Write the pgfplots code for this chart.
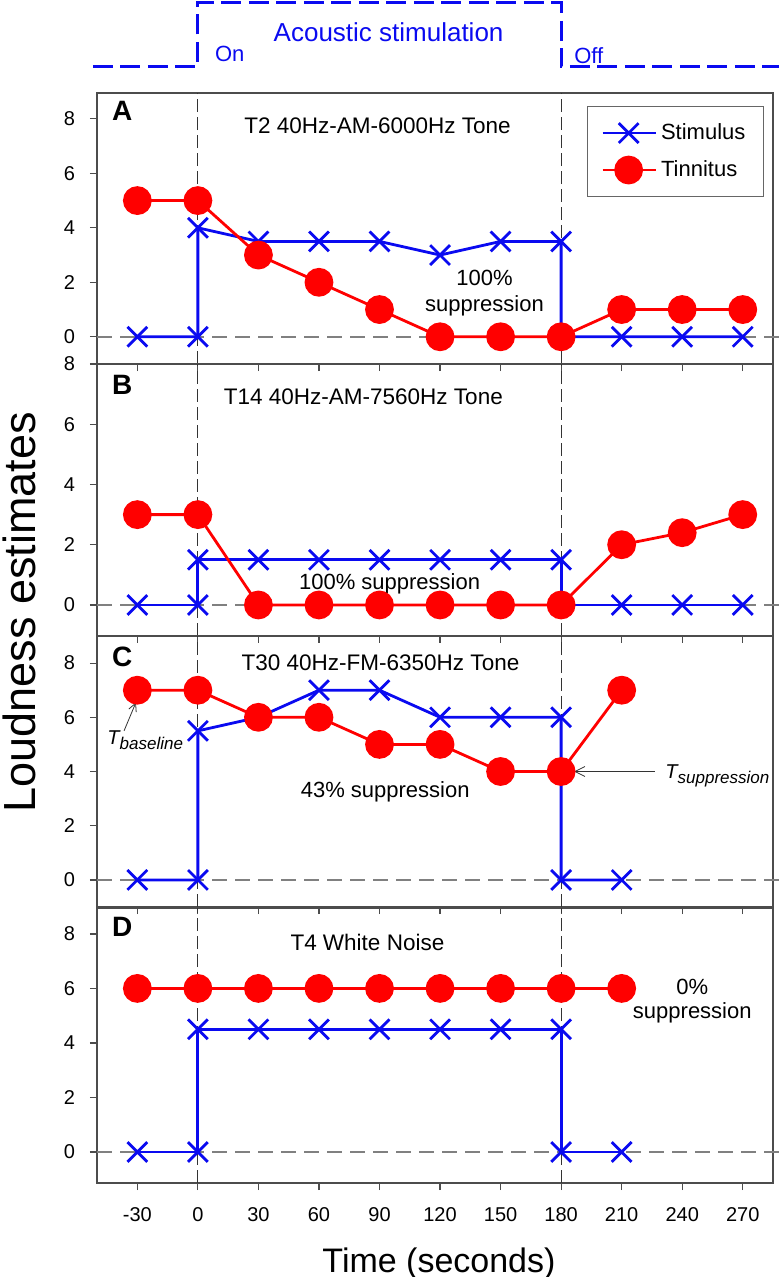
\documentclass[border=0pt]{standalone}
\usepackage{fontspec}
\setmainfont{Liberation Sans}
\usepackage{pgfplots}
\pgfplotsset{compat=1.18}
\usetikzlibrary{arrows.meta}

\definecolor{sblue}{RGB}{10,10,240}
\definecolor{tred}{RGB}{255,0,0}

\pgfplotsset{
  panel/.style={
    scale only axis, width=338pt,
    xmin=-50, xmax=285,
    xtick={-30,0,30,60,90,120,150,180,210,240,270},
    xticklabels={},
    ytick={0,2,4,6,8}, yticklabels={0,2,4,6,8},
    tick pos=left, tick align=outside,
    major tick length=3.5pt,
    axis line style={black!70, line width=0.7pt},
    tick style={black!70, line width=0.6pt},
    yticklabel style={font=\fontsize{10}{12}\selectfont, xshift=-4pt},
    clip=false,
  },
  stim/.style={sblue, line width=1.4pt, mark=x, mark size=7pt,
    mark options={solid, line width=1.4pt}},
  tinn/.style={tred, line width=1.4pt, mark=*, mark size=6.5pt,
    mark options={solid}},
  guide/.style={black!80, line width=0.5pt, dash pattern=on 6.5pt off 2.5pt, forget plot},
  zeroline/.style={black!50, line width=0.75pt, dash pattern=on 7.5pt off 4pt, forget plot},
}
\tikzset{
  plab/.style={font=\bfseries\fontsize{14}{16}\selectfont, anchor=west},
  ttl/.style={font=\fontsize{11.25}{13}\selectfont},
  ann/.style={font=\fontsize{11}{13}\selectfont},
}
\newcommand\guides[2]{%
  \addplot[guide] coordinates {(0,#1) (0,#2)};
  \addplot[guide] coordinates {(180,#1) (180,#2)};
  \addplot[zeroline] coordinates {(-50,0) (290,0)};
}

\begin{document}
\begin{tikzpicture}
\useasboundingbox (0,0) rectangle (389.5pt,-638.5pt);

% stimulation trace
\begin{axis}[at={(48.5pt,-1.5pt)}, anchor=north west, scale only axis,
  width=338pt, height=32pt, xmin=-50, xmax=285, ymin=0, ymax=1,
  axis lines=none, clip=false]
\addplot[sblue, line width=1.5pt, dash pattern=on 10pt off 3.75pt]
  coordinates {(-52,0) (0,0) (0,1) (180,1) (180,0) (288,0)};
\node[sblue, font=\fontsize{13}{15}\selectfont] at (axis cs:94.5,0.55) {Acoustic stimulation};
\node[sblue, anchor=west, font=\fontsize{11}{13}\selectfont] at (axis cs:5,0.2) {On};
\node[sblue, anchor=west, font=\fontsize{11}{13}\selectfont] at (axis cs:183,0.18) {Off};
\end{axis}

% A
\begin{axis}[panel, at={(48.5pt,-46.5pt)}, anchor=north west,
  height=135.5pt, ymin=-1, ymax=8.95,
  legend style={at={(0.9867,0.952)}, anchor=north east, draw=black!60,
    line width=0.6pt, font=\fontsize{11}{13}\selectfont,
    inner xsep=7pt, inner ysep=6.5pt, row sep=5pt, cells={anchor=west}},
  legend image code/.code={\draw[mark repeat=2, mark phase=2, #1]
    plot coordinates {(0pt,0pt) (13pt,0pt) (26.5pt,0pt)};}]
\guides{-1}{8.95}
\addplot[stim] coordinates {(-30,0) (0,0) (0,4) (30,3.5) (60,3.5) (90,3.5)
  (120,3) (150,3.5) (180,3.5) (180,0) (210,0) (240,0) (270,0)};
\addlegendentry{Stimulus}
\addplot[tinn] coordinates {(-30,5) (0,5) (30,3) (60,2) (90,1) (120,0)
  (150,0) (180,0) (210,1) (240,1) (270,1)};
\addlegendentry{Tinnitus}
\node[plab] at (rel axis cs:0,1) [xshift=4pt, yshift=-9pt] {A};
\node[ttl] at (axis cs:89,7.75) {T2 40Hz-AM-6000Hz Tone};
\node[align=center, font=\fontsize{11}{13}\selectfont] at (axis cs:142,1.6) {100\%\\suppression};
\end{axis}

% B
\begin{axis}[panel, at={(48.5pt,-182pt)}, anchor=north west,
  height=136pt, ymin=-1.03, ymax=8]
\guides{-1.03}{8}
\addplot[stim] coordinates {(-30,0) (0,0) (0,1.5) (30,1.5) (60,1.5) (90,1.5)
  (120,1.5) (150,1.5) (180,1.5) (180,0) (210,0) (240,0) (270,0)};
\addplot[tinn] coordinates {(-30,3) (0,3) (30,0) (60,0) (90,0) (120,0)
  (150,0) (180,0) (210,2) (240,2.4) (270,3)};
\node[plab] at (rel axis cs:0,1) [xshift=4pt, yshift=-10.5pt] {B};
\node[ttl] at (axis cs:82,6.9) {T14 40Hz-AM-7560Hz Tone};
\node[ann] at (axis cs:95,0.7) {100\% suppression};
\end{axis}

% C
\begin{axis}[panel, at={(48.5pt,-318pt)}, anchor=north west,
  height=135.5pt, ymin=-1, ymax=9]
\guides{-1}{9}
\addplot[stim] coordinates {(-30,0) (0,0) (0,5.5) (30,6) (60,7) (90,7)
  (120,6) (150,6) (180,6) (180,0) (210,0)};
\addplot[tinn] coordinates {(-30,7) (0,7) (30,6) (60,6) (90,5) (120,5)
  (150,4) (180,4) (210,7)};
\node[plab] at (rel axis cs:0,1) [xshift=4pt, yshift=-10.5pt] {C};
\node[ttl] at (axis cs:90.5,8) {T30 40Hz-FM-6350Hz Tone};
\node[ann, anchor=west] at (axis cs:47.5,3.25) {43\% suppression};
\node[anchor=west, inner sep=0pt] at (axis cs:-45,5.15)
  {\itshape\fontsize{10}{12}\selectfont T\raisebox{-0.45ex}{\fontsize{8.5}{10}\selectfont baseline}};
\draw[black!80, line width=0.4pt, -{Straight Barb[length=4pt,width=4pt]}]
  (axis cs:-36.6,5.5) -- (axis cs:-30.7,6.55);
\node[anchor=west, inner sep=0pt] at (axis cs:231.5,3.85)
  {\itshape\fontsize{10}{12}\selectfont T\raisebox{-0.45ex}{\fontsize{8.5}{10}\selectfont suppression}};
\draw[black!80, line width=0.4pt, -{Straight Barb[length=5pt,width=5pt]}]
  (axis cs:226.5,4) -- (axis cs:186.4,4);
\end{axis}

% D
\begin{axis}[panel, at={(48.5pt,-454pt)}, anchor=north west,
  height=137.5pt, ymin=-1.14, ymax=8.95,
  xticklabels={-30,0,30,60,90,120,150,180,210,240,270},
  xticklabel style={font=\fontsize{10}{12}\selectfont, yshift=-5pt}]
\guides{-1.14}{8.95}
\addplot[stim] coordinates {(-30,0) (0,0) (0,4.5) (30,4.5) (60,4.5) (90,4.5)
  (120,4.5) (150,4.5) (180,4.5) (180,0) (210,0)};
\addplot[tinn] coordinates {(-30,6) (0,6) (30,6) (60,6) (90,6) (120,6)
  (150,6) (180,6) (210,6)};
\node[plab] at (rel axis cs:0,1) [xshift=4pt, yshift=-9.5pt] {D};
\node[ttl] at (axis cs:84,7.7) {T4 White Noise};
\node[align=center, font=\fontsize{11}{12}\selectfont] at (axis cs:245,5.55) {0\%\\suppression};
\end{axis}

\node[rotate=90, anchor=north, inner sep=0pt, font=\fontsize{22.5}{26}\selectfont]
  at (1pt,-306pt) {Loudness estimates};
\node[anchor=base, inner sep=0pt, font=\fontsize{17}{20}\selectfont]
  at (219.5pt,-636pt) {Time (seconds)};
\end{tikzpicture}
\end{document}
